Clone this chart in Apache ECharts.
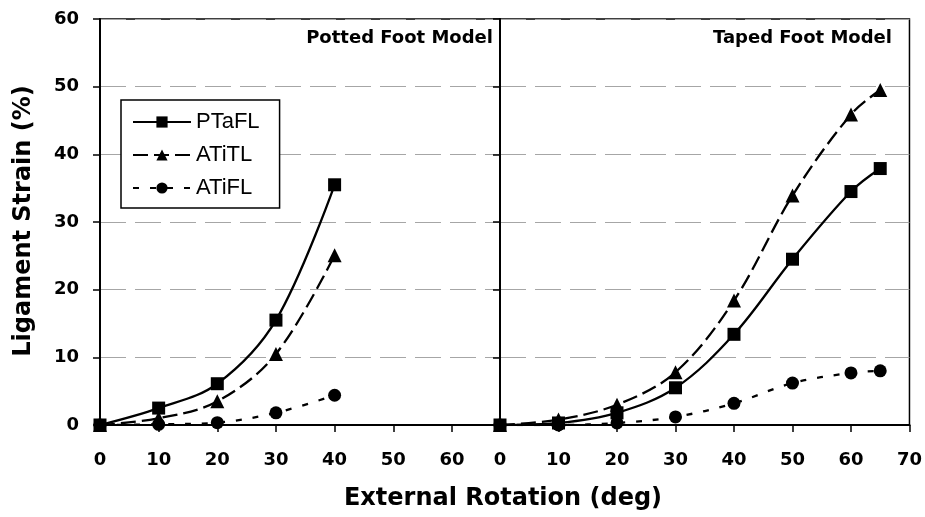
<!DOCTYPE html>
<html><head><meta charset="utf-8">
<script src="https://cdn.jsdelivr.net/npm/echarts@6/dist/echarts.min.js"></script>
<style>html,body{margin:0;padding:0;background:#fff}#c{width:925px;height:517px}</style>
</head><body><div id="c"></div>
<script>
// ---- data ----
const seriesNames = ['PTaFL', 'ATiTL', 'ATiFL'];
const pottedX = [0, 10, 20, 30, 40];
const pottedPTaFL = [0, 2.5, 6.1, 15.5, 35.5];
const pottedATiTL = [0, 1.0, 3.5, 10.5, 25.1];
const pottedATiFL = [0, 0.1, 0.35, 1.8, 4.4];
const tapedX = [0, 10, 20, 30, 40, 50, 60, 65];
const tapedPTaFL = [0, 0.3, 1.8, 5.5, 13.4, 24.5, 34.5, 37.9];
const tapedATiTL = [0, 0.8, 3.0, 7.8, 18.4, 33.9, 45.9, 49.5];
const tapedATiFL = [0, 0, 0.3, 1.2, 3.2, 6.2, 7.7, 8.0];
const yTickLabels = [0, 10, 20, 30, 40, 50, 60];
const pottedXTickLabels = [0, 10, 20, 30, 40, 50, 60];
const tapedXTickLabels = [0, 10, 20, 30, 40, 50, 60, 70];
const panelTitles = ['Potted Foot Model', 'Taped Foot Model'];
const xTitle = 'External Rotation (deg)';
const yTitle = 'Ligament Strain (%)';

// ---- styles ----
const BOLD = 'DejaVu Sans';
const styles = {
  PTaFL: { type: 'solid', symbol: 'rect', size: 13 },
  ATiTL: { type: [15, 6], symbol: 'triangle', size: 14 },
  ATiFL: { type: [6, 11], symbol: 'circle', size: 13 }
};
const gridLine = { show: true, lineStyle: { color: '#a6a6a6', width: 1, type: [26, 9] } };
const labelStyle = { color: '#000', fontFamily: BOLD, fontWeight: 'bold', fontSize: 18 };

function pair(xs, ys) { return xs.map((x, i) => [x, ys[i]]); }
const panelData = [
  [pottedPTaFL, pottedATiTL, pottedATiFL],
  [tapedPTaFL, tapedATiTL, tapedATiFL]
];
const panelX = [pottedX, tapedX];

const series = [];
for (let p = 0; p < 2; p++) {
  seriesNames.forEach((name, k) => {
    const st = styles[name];
    series.push({
      name: name, type: 'line', xAxisIndex: p, yAxisIndex: p,
      data: pair(panelX[p], panelData[p][k]),
      smooth: 0.35,
      symbol: st.symbol, symbolSize: st.size, showSymbol: true,
      lineStyle: { color: '#000', width: 2.3, type: st.type },
      itemStyle: { color: '#000' },
      emphasis: { disabled: true }
    });
  });
}

const chart = echarts.init(document.getElementById('c'), null, { renderer: 'canvas' });
chart.setOption({
  animation: false,
  backgroundColor: '#fff',
  grid: [
    { left: 100, top: 19, width: 400, height: 406, show: true, borderColor: '#000', borderWidth: 1.5, backgroundColor: 'transparent' },
    { left: 500, top: 19, width: 410, height: 406, show: true, borderColor: '#000', borderWidth: 1.5, backgroundColor: 'transparent' }
  ],
  xAxis: [
    {
      type: 'value', gridIndex: 0, min: 0, max: 68.2, interval: 10,
      axisLine: { show: true, onZero: false, lineStyle: { color: '#000', width: 2 } },
      axisTick: { show: true, inside: false, length: 7, lineStyle: { color: '#000', width: 1.5 } },
      axisLabel: Object.assign({ margin: 26, formatter: v => pottedXTickLabels.includes(v) ? String(v) : '' }, labelStyle),
      splitLine: { show: false }
    },
    {
      type: 'value', gridIndex: 1, min: 0, max: 70, interval: 10,
      axisLine: { show: true, onZero: false, lineStyle: { color: '#000', width: 2 } },
      axisTick: { show: true, inside: false, length: 7, lineStyle: { color: '#000', width: 1.5 } },
      axisLabel: Object.assign({ margin: 26, formatter: v => tapedXTickLabels.includes(v) ? String(v) : '' }, labelStyle),
      splitLine: { show: false }
    }
  ],
  yAxis: [
    {
      type: 'value', gridIndex: 0, min: 0, max: 60, interval: 10,
      axisLine: { show: true, lineStyle: { color: '#000', width: 2 } },
      axisTick: { show: true, inside: false, length: 7, lineStyle: { color: '#000', width: 1.5 } },
      axisLabel: Object.assign({ margin: 21, formatter: v => yTickLabels.includes(v) ? String(v) : '' }, labelStyle),
      splitLine: gridLine
    },
    {
      type: 'value', gridIndex: 1, min: 0, max: 60, interval: 10,
      axisLine: { show: true, lineStyle: { color: '#000', width: 2 } },
      axisTick: { show: true, inside: false, length: 7, lineStyle: { color: '#000', width: 1.5 } },
      axisLabel: { show: false },
      splitLine: gridLine
    }
  ],
  legend: {
    data: seriesNames,
    orient: 'vertical', left: 121, top: 100,
    padding: [11, 20, 9, 11], itemGap: 11,
    itemWidth: 58, itemHeight: 14,
    backgroundColor: '#fff', borderColor: '#000', borderWidth: 1.5,
    textStyle: { color: '#000', fontFamily: 'Liberation Sans', fontSize: 22 },
    selectedMode: false
  },
  graphic: [
    { type: 'text', x: 493, y: 38.5, z: 100, style: { text: panelTitles[0], fill: '#000', font: 'bold 18px "DejaVu Sans"', textAlign: 'right', textVerticalAlign: 'middle' } },
    { type: 'text', x: 892, y: 38.5, z: 100, style: { text: panelTitles[1], fill: '#000', font: 'bold 18px "DejaVu Sans"', textAlign: 'right', textVerticalAlign: 'middle' } },
    { type: 'text', x: 503, y: 499, z: 100, style: { text: xTitle, fill: '#000', font: 'bold 24px "DejaVu Sans"', textAlign: 'center', textVerticalAlign: 'middle' } },
    { type: 'text', x: 24, y: 221, rotation: Math.PI / 2, z: 100, style: { text: yTitle, fill: '#000', font: 'bold 24px "DejaVu Sans"', textAlign: 'center', textVerticalAlign: 'middle' } }
  ],
  series: series
});
</script>
</body></html>
